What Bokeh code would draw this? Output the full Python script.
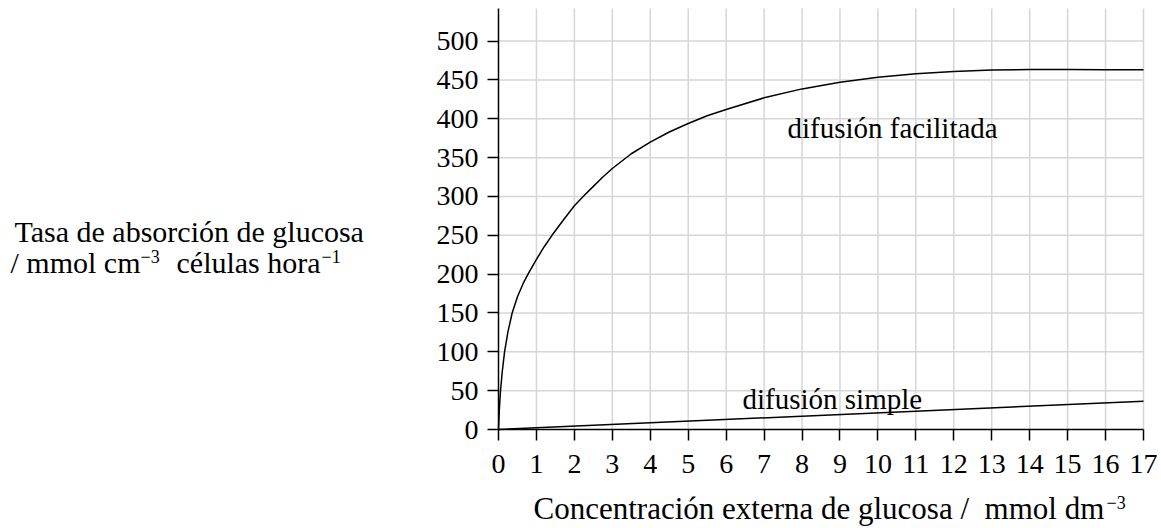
from bokeh.plotting import figure
from bokeh.models import Label, FixedTicker, Range1d
from bokeh.embed import file_html
from bokeh.resources import INLINE

# Data
fac_x = [0, 0.02, 0.05, 0.1, 0.16, 0.25, 0.36, 0.5, 0.65, 0.8, 1, 1.2, 1.41, 1.7,
         2, 2.25, 2.5, 2.75, 3, 3.5, 4, 4.5, 5, 5.5, 6, 7, 8, 9, 10, 11, 12, 13,
         14, 15, 16, 17]
fac_y = [0, 24, 48, 75, 100, 126, 150, 171, 188, 202, 219, 235, 250, 269,
         288, 301, 313, 325, 336, 355, 370, 383, 394, 404, 412, 427, 438.5, 447,
         453.5, 458, 461, 462.7, 463.5, 463.6, 463.3, 463]
sim_x = [0, 17]
sim_y = [0, 36.5]

x_ticks = list(range(0, 18))
y_ticks = [0, 50, 100, 150, 200, 250, 300, 350, 400, 450, 500]
x_max = 17
y_max = 542

FONT = "Liberation Serif"
W, H = 1161, 528
# frame geometry (page pixels) of the plotting area
LEFT, RIGHT, TOP, BOTTOM = 498, 1143, 8, 429
pxx = (RIGHT - LEFT) / x_max
pxy = (BOTTOM - TOP) / y_max

p = figure(width=W, height=H,
           x_range=Range1d(-LEFT / pxx, x_max + (W - RIGHT) / pxx),
           y_range=Range1d(-(H - BOTTOM) / pxy, y_max + TOP / pxy),
           output_backend="svg", toolbar_location=None,
           min_border_left=0, min_border_right=0, min_border_top=0, min_border_bottom=0)
p.outline_line_color = None
p.background_fill_color = "white"
p.border_fill_color = "white"
p.xgrid.visible = False
p.ygrid.visible = False

# grid lines
gx = x_ticks[1:]
p.segment(x0=gx, y0=[0] * len(gx), x1=gx, y1=[y_max] * len(gx),
          line_color="#d6d6d6", line_width=1.5)
gy = y_ticks[1:]
p.segment(x0=[0] * len(gy), y0=gy, x1=[x_max] * len(gy), y1=gy,
          line_color="#d6d6d6", line_width=1.5)

for ax in (p.xaxis[0], p.yaxis[0]):
    ax.fixed_location = 0
    ax.axis_line_color = "black"
    ax.axis_line_width = 1.5
    ax.major_tick_line_color = "black"
    ax.major_tick_line_width = 1.5
    ax.major_tick_out = 11
    ax.major_tick_in = 0
    ax.minor_tick_line_color = None
    ax.major_label_text_font = FONT
    ax.major_label_text_font_size = "28px"
    ax.major_label_text_color = "black"

p.xaxis[0].bounds = (0, x_max)
p.yaxis[0].bounds = (0, y_max)
p.xaxis[0].ticker = FixedTicker(ticks=x_ticks)
p.yaxis[0].ticker = FixedTicker(ticks=y_ticks)
p.xaxis[0].major_label_standoff = 14
p.yaxis[0].major_label_standoff = 9

p.line(fac_x, fac_y, line_color="black", line_width=1.5)
p.line(sim_x, sim_y, line_color="black", line_width=1.5)

def lab(text, px, py, size="30px"):
    # px, py: page pixel position (left, baseline)
    p.add_layout(Label(x=px, y=H - py, x_units="screen", y_units="screen", text=text,
                       text_font=FONT, text_font_size=size, text_color="black",
                       text_align="left", text_baseline="alphabetic"))

# curve labels
lab("difusión facilitada", 787, 127, "29px")
lab("difusión simple", 742, 398, "29px")

# y axis title
lab("Tasa de absorción de glucosa", 14, 231)
lab("/ mmol cm", 10, 262)
lab("\u22123", 140, 256, "18px")
lab("células hora", 176, 262)
lab("\u22121", 321, 256, "18px")

# x axis title
lab("Concentración externa de glucosa /\u00a0\u00a0mmol dm", 533, 508, "31px")
lab("\u22123", 1106, 502, "18px")

open("out.html", "w").write(file_html(p, INLINE))
